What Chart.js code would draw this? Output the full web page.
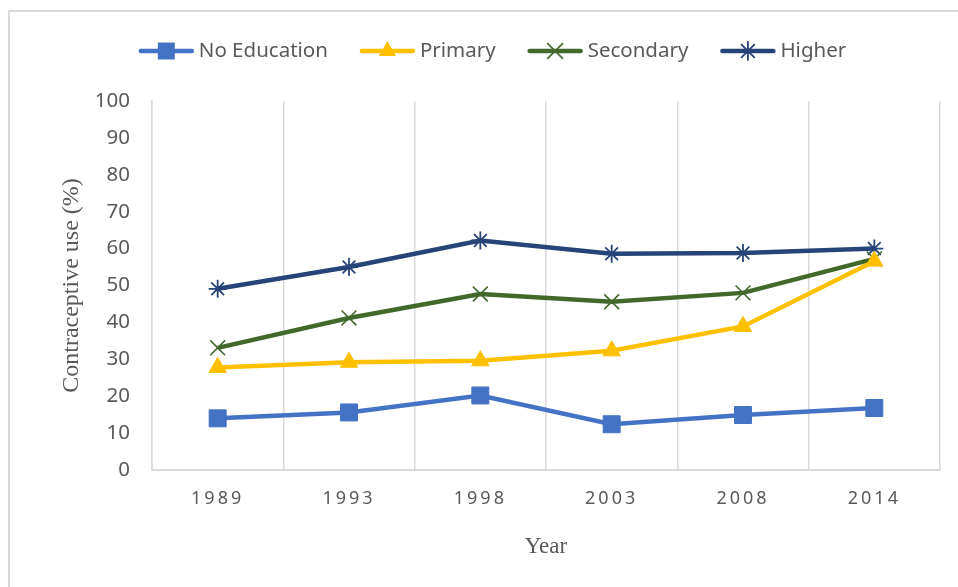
<!DOCTYPE html>
<html>
<head>
<meta charset="utf-8">
<script src="https://cdn.jsdelivr.net/npm/chart.js@4"></script>
<style>
  html, body { margin: 0; padding: 0; background: #ffffff; }
  #wrap { width: 958px; height: 587px; position: relative; }
</style>
</head>
<body>
<div id="wrap"><canvas id="c" width="958" height="587"></canvas></div>
<script>
// ---- data ----
const years = ['1989', '1993', '1998', '2003', '2008', '2014'];
const noEducation = [14.0, 15.6, 20.2, 12.4, 14.9, 16.8];
const primary = [27.8, 29.2, 29.6, 32.3, 38.9, 56.6];
const secondary = [33.1, 41.2, 47.7, 45.6, 48.0, 57.2];
const higher = [49.1, 55.0, 62.2, 58.6, 58.8, 60.0];
const yTicks = [0, 10, 20, 30, 40, 50, 60, 70, 80, 90, 100];
const seriesNames = ['No Education', 'Primary', 'Secondary', 'Higher'];

const GRID = '#d9d9d9';
const TEXT = '#595959';
const SANS = '"Noto Sans", "Open Sans", sans-serif';
const SERIF = '"Liberation Serif", "DejaVu Serif", serif';

function ds(label, data, color, style, radius, bw) {
  return {
    label, data,
    borderColor: color, backgroundColor: color,
    borderWidth: 4.5,
    pointStyle: style, pointRadius: radius, pointHoverRadius: radius,
    pointBackgroundColor: color, pointBorderColor: color,
    pointBorderWidth: bw,
    tension: 0, fill: false
  };
}

function drawMarker(ctx, style, r, bw, color, x, y) {
  ctx.save();
  ctx.fillStyle = color; ctx.strokeStyle = color; ctx.lineWidth = bw;
  ctx.beginPath();
  if (style === 'rect') {
    const s = Math.SQRT1_2 * r;
    ctx.rect(x - s, y - s, 2 * s, 2 * s);
    ctx.fill();
  } else if (style === 'triangle') {
    let a = 0;
    ctx.moveTo(x + Math.sin(a) * r, y - Math.cos(a) * r);
    a += 2 * Math.PI / 3;
    ctx.lineTo(x + Math.sin(a) * r, y - Math.cos(a) * r);
    a += 2 * Math.PI / 3;
    ctx.lineTo(x + Math.sin(a) * r, y - Math.cos(a) * r);
    ctx.closePath();
    ctx.fill();
  } else if (style === 'crossRot' || style === 'star') {
    const d = Math.SQRT1_2 * r;
    ctx.moveTo(x - d, y - d); ctx.lineTo(x + d, y + d);
    ctx.moveTo(x - d, y + d); ctx.lineTo(x + d, y - d);
    if (style === 'star') {
      ctx.moveTo(x, y - r); ctx.lineTo(x, y + r);
      ctx.moveTo(x - r, y); ctx.lineTo(x + r, y);
    }
    ctx.stroke();
  }
  ctx.restore();
}

const frameAndLegend = {
  id: 'frameAndLegend',
  beforeDraw(chart) {
    const ctx = chart.ctx;
    ctx.save();
    ctx.fillStyle = '#ffffff';
    ctx.fillRect(0, 0, chart.width, chart.height);
    ctx.strokeStyle = GRID; ctx.lineWidth = 2;
    ctx.beginPath();
    ctx.moveTo(9, chart.height); ctx.lineTo(9, 11); ctx.lineTo(chart.width, 11);
    ctx.stroke();
    ctx.restore();
  },
  afterDraw(chart) {
    const ctx = chart.ctx;
    ctx.save();
    ctx.font = '20.5px ' + SANS;
    ctx.textBaseline = 'middle';
    ctx.textAlign = 'left';
    const lineLen = 55, textGap = 5, itemGap = 32, cy = 51, cx = 492.5;
    const items = chart.data.datasets.map(d => ({ d, w: ctx.measureText(d.label).width }));
    let total = 0;
    items.forEach((it, i) => { total += lineLen + textGap + it.w + (i < items.length - 1 ? itemGap : 0); });
    let x = cx - total / 2;
    items.forEach(it => {
      const d = it.d;
      ctx.strokeStyle = d.borderColor; ctx.lineWidth = 4.5; ctx.lineCap = 'round';
      ctx.beginPath(); ctx.moveTo(x + 2, cy); ctx.lineTo(x + lineLen - 2, cy); ctx.stroke();
      drawMarker(ctx, d.pointStyle, d.pointRadius, d.pointBorderWidth, d.borderColor, x + lineLen / 2, cy);
      ctx.fillStyle = TEXT;
      ctx.fillText(d.label, x + lineLen + textGap, cy);
      x += lineLen + textGap + it.w + itemGap;
    });
    ctx.restore();
  },
  afterLayout(chart) {
    const xs = chart.scales.x;
    if (xs && !xs._spacedPatch) {
      const orig = xs.drawLabels;
      xs.drawLabels = function (area) {
        this.ctx.save();
        this.ctx.letterSpacing = '3px';
        orig.call(this, area);
        this.ctx.restore();
      };
      xs._spacedPatch = true;
    }
  }
};

new Chart(document.getElementById('c'), {
  type: 'line',
  data: {
    labels: years,
    datasets: [
      ds(seriesNames[0], noEducation, '#4472C4', 'rect', 12, 1),
      ds(seriesNames[1], primary, '#FFC000', 'triangle', 10, 1),
      ds(seriesNames[2], secondary, '#43682B', 'crossRot', 10.5, 1.6),
      ds(seriesNames[3], higher, '#264478', 'star', 9, 1.8)
    ]
  },
  options: {
    responsive: false,
    animation: false,
    devicePixelRatio: 1,
    layout: { padding: { top: 101, right: 18, bottom: 0, left: 0 } },
    plugins: { legend: { display: false }, tooltip: { enabled: false } },
    scales: {
      x: {
        offset: true,
        grid: { display: true, offset: true, color: GRID, lineWidth: 1.5, drawTicks: false },
        border: { display: true, color: GRID, width: 2 },
        ticks: { color: TEXT, font: { family: SANS, size: 18 }, padding: 18, maxRotation: 0 },
        title: { display: true, text: 'Year', color: TEXT, font: { family: SERIF, size: 23 }, padding: { top: 0, bottom: 26 } },
        afterFit(s) { s.height = 587 - 470; }
      },
      y: {
        min: 0, max: 100,
        afterBuildTicks(s) { s.ticks = yTicks.map(v => ({ value: v })); },
        grid: { display: false, drawTicks: false },
        border: { display: true, color: GRID, width: 1.5 },
        ticks: { color: TEXT, font: { family: SANS, size: 20.5 }, padding: 22 },
        title: { display: true, text: 'Contraceptive use (%)', color: TEXT, font: { family: SERIF, size: 24 }, padding: { top: 57, bottom: 0 } },
        afterFit(s) { s.width = 152; }
      }
    }
  },
  plugins: [frameAndLegend]
});
</script>
</body>
</html>
